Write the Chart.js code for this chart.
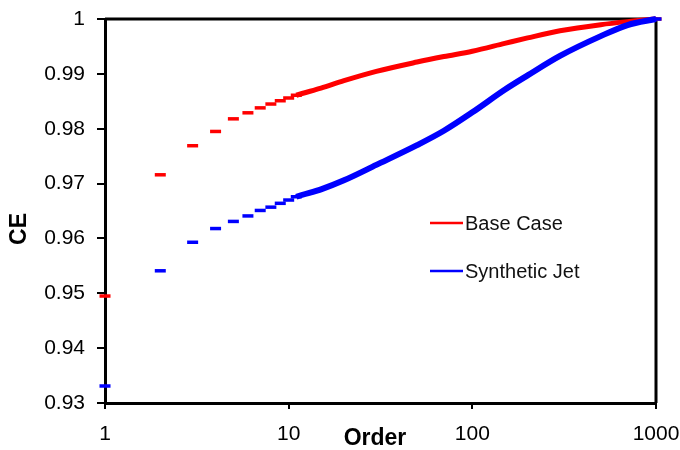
<!DOCTYPE html>
<html>
<head>
<meta charset="utf-8">
<script src="https://cdn.jsdelivr.net/npm/chart.js@4"></script>
<style>
  html, body { margin: 0; padding: 0; background: #ffffff; }
  #wrap { width: 680px; height: 450px; }
</style>
</head>
<body>
<div id="wrap"><canvas id="c" width="680" height="450"></canvas></div>
<script>
// ---- data ----
const orders = [1, 2, 3, 4, 5, 6, 7, 8, 9, 10, 11, 15, 20, 30, 50, 70, 100, 150, 200, 300, 500, 700, 1000];
const baseCase = [0.9495, 0.9716, 0.9769, 0.9795, 0.9818, 0.9829, 0.9838, 0.9845, 0.9851, 0.9856, 0.9861,
                  0.9874, 0.98875, 0.99045, 0.99215, 0.99315, 0.99413, 0.99555, 0.99655, 0.99785, 0.99897, 0.99952, 1.0];
const syntheticJet = [0.9331, 0.9541, 0.9593, 0.9618, 0.9631, 0.9641, 0.9651, 0.9657, 0.9664, 0.9670, 0.9676,
                      0.96894, 0.97059, 0.97340, 0.97700, 0.97963, 0.98299, 0.98710, 0.98972, 0.99327, 0.99688, 0.99890, 1.0];
const seriesNames = ['Base Case', 'Synthetic Jet'];
const xTickValues = [1, 10, 100, 1000];
const yTickValues = [0.93, 0.94, 0.95, 0.96, 0.97, 0.98, 0.99, 1];
const xTitle = 'Order';
const yTitle = 'CE';

const FONT = "'Liberation Sans', Arial, sans-serif";
const DASH_LIMIT = 11; // beyond this order the dashes merge into a continuous band

function toPoints(vals) { return orders.map((o, i) => ({ x: o, y: vals[i] })); }

function makeDataset(label, vals, color, bandWidth, order) {
  return {
    label: label,
    data: toPoints(vals),
    borderColor: color,
    backgroundColor: color,
    borderWidth: bandWidth,
    pointStyle: 'line',
    pointBorderColor: color,
    pointBorderWidth: 3.5,
    pointRadius: ctx => {
      const x = ctx.raw ? ctx.raw.x : 0;
      return (x <= DASH_LIMIT || x === orders[orders.length - 1]) ? 5.5 : 0;
    },
    pointHoverRadius: 5.5,
    cubicInterpolationMode: 'monotone',
    segment: {
      borderColor: s => (s.p0.parsed.x >= DASH_LIMIT ? color : 'rgba(0,0,0,0)')
    },
    clip: false,
    order: order
  };
}

const framePlugin = {
  id: 'frame',
  beforeDatasetsDraw(chart) {
    const a = chart.chartArea, ctx = chart.ctx;
    ctx.save();
    ctx.strokeStyle = '#000';
    ctx.lineWidth = 3;
    ctx.beginPath();
    ctx.moveTo(a.left, a.top);
    ctx.lineTo(a.right, a.top);
    ctx.lineTo(a.right, a.bottom);
    ctx.stroke();
    ctx.restore();
  }
};

const textPlugin = {
  id: 'texts',
  afterDraw(chart) {
    const ctx = chart.ctx;
    ctx.save();
    // legend
    const ys = [223, 271];
    chart.data.datasets.forEach((ds, i) => {
      const y = ys[i];
      ctx.strokeStyle = ds.borderColor;
      ctx.lineWidth = 2.5;
      ctx.beginPath();
      ctx.moveTo(430, y);
      ctx.lineTo(463, y);
      ctx.stroke();
      ctx.fillStyle = '#111';
      ctx.font = '20px ' + FONT;
      ctx.textAlign = 'left';
      ctx.textBaseline = 'middle';
      ctx.fillText(ds.label, 465, y + 1);
    });
    // axis titles
    ctx.fillStyle = '#000';
    ctx.font = 'bold 23px ' + FONT;
    ctx.textAlign = 'center';
    ctx.textBaseline = 'middle';
    ctx.fillText(xTitle, 375, 439);
    ctx.translate(19, 229);
    ctx.rotate(-Math.PI / 2);
    ctx.fillText(yTitle, 0, 1);
    ctx.restore();
  }
};

new Chart(document.getElementById('c'), {
  type: 'line',
  data: {
    datasets: [
      makeDataset(seriesNames[0], baseCase, '#ff0000', 5, 1),
      makeDataset(seriesNames[1], syntheticJet, '#0000ff', 6, 0)
    ]
  },
  options: {
    responsive: false,
    animation: false,
    devicePixelRatio: 1,
    layout: { padding: { left: 0, right: 24, top: 19, bottom: 0 } },
    plugins: {
      legend: { display: false },
      tooltip: { enabled: false },
      title: { display: false }
    },
    scales: {
      x: {
        type: 'logarithmic',
        min: 1,
        max: 1000,
        afterBuildTicks: s => { s.ticks = xTickValues.map(v => ({ value: v })); },
        afterFit: s => { s.height = 47; s.paddingRight = 0; s.paddingLeft = 0; },
        ticks: {
          autoSkip: false,
          maxRotation: 0,
          padding: 13,
          color: '#000',
          font: { family: FONT, size: 21 },
          callback: v => String(v)
        },
        grid: { drawOnChartArea: false, drawTicks: true, tickLength: 6, color: '#000', lineWidth: 2 },
        border: { display: true, color: '#000', width: 3 }
      },
      y: {
        type: 'linear',
        min: 0.93,
        max: 1,
        afterBuildTicks: s => { s.ticks = yTickValues.map(v => ({ value: v })); },
        afterFit: s => { s.width = 105; s.paddingTop = 0; s.paddingBottom = 0; },
        ticks: {
          padding: 12,
          color: '#000',
          font: { family: FONT, size: 21 },
          callback: v => String(Number(v.toFixed(2)))
        },
        grid: { drawOnChartArea: false, drawTicks: true, tickLength: 8, color: '#000', lineWidth: 2 },
        border: { display: true, color: '#000', width: 3 }
      }
    }
  },
  plugins: [framePlugin, textPlugin]
});
</script>
</body>
</html>
